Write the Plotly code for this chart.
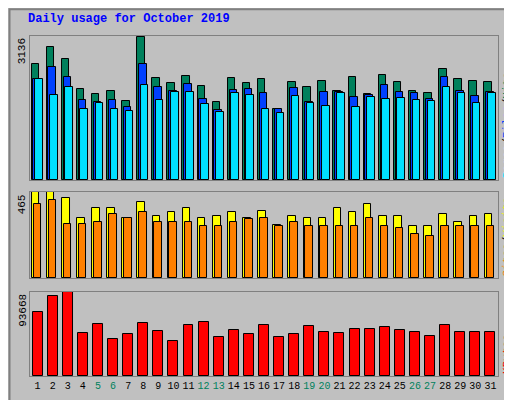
import plotly.graph_objects as go
from plotly.subplots import make_subplots

days = list(range(1, 32))
weekend = [5, 6, 12, 13, 19, 20, 26, 27]

hits = [2539, 2915, 2650, 1987, 1877, 1943, 1722, 3136, 2230, 2120, 2274, 2054, 1700, 2230, 2120, 2208,
        1546, 2142, 2031, 2164, 1943, 2252, 1877, 2296, 2142, 1943, 1899, 2429, 2208, 2164, 2142]
files = [2208, 2473, 2252, 1744, 1700, 1744, 1590, 2539, 2031, 1943, 2098, 1766, 1524, 1965, 1987, 1899,
         1546, 2009, 1700, 1921, 1921, 1811, 1855, 2076, 1921, 1899, 1766, 2252, 1943, 1833, 1921]
pages = [2208, 1855, 2031, 1546, 1678, 1546, 1502, 2076, 1744, 1921, 1921, 1656, 1479, 1899, 1855, 1546,
         1457, 1833, 1678, 1612, 1899, 1590, 1811, 1766, 1789, 1744, 1722, 2031, 1899, 1678, 1899]
visits = [465, 465, 433, 325, 379, 379, 325, 411, 335, 357, 379, 325, 335, 357, 325, 362,
          287, 335, 325, 325, 379, 357, 400, 335, 335, 281, 281, 346, 303, 335, 346]
sites = [400, 422, 292, 292, 303, 346, 325, 357, 303, 303, 303, 281, 281, 303, 319, 325,
         281, 303, 281, 281, 281, 281, 325, 281, 270, 238, 227, 281, 281, 281, 281]
kbytes = [71360, 89200, 93668, 47945, 57980, 41255, 46830, 59095, 50175, 39025, 56865, 60210, 43485,
          51290, 46830, 56865, 43485, 46830, 55750, 49060, 47945, 52405, 52405, 54635, 51290, 49060,
          44600, 56865, 49060, 49060, 49060]

FONT = "Liberation Mono"
fig = make_subplots(rows=3, cols=1, shared_xaxes=True)

def bars(row, y, color, offset, width=0.5):
    fig.add_trace(go.Bar(x=days, y=y, offset=offset, width=width, marker_color=color,
                         marker_line=dict(color="black", width=1), showlegend=False), row=row, col=1)

bars(1, hits, "#00805C", -0.4)
bars(1, files, "#0040FF", -0.28)
bars(1, pages, "#00E0FF", -0.16)
bars(2, visits, "#FFFF00", -0.38)
bars(2, sites, "#FF8000", -0.26)
bars(3, kbytes, "#FF0000", -0.33, 0.66)

fig.update_layout(
    width=512, height=400, margin=dict(l=0, r=0, t=0, b=0),
    paper_bgcolor="#C0C0C0", plot_bgcolor="#C0C0C0", barmode="overlay", bargap=0,
    font=dict(family=FONT, size=11, color="black"),
)
doms = [[0.57, 0.93], [0.325, 0.54], [0.08, 0.29]]
maxes = [3136, 465, 93668]
for i, (d, m) in enumerate(zip(doms, maxes), start=1):
    fig.update_yaxes(domain=d, range=[0, m * 1.005], showticklabels=False, showgrid=False,
                     zeroline=False, showline=True, linecolor="#808080", mirror=True, row=i, col=1)
    fig.update_xaxes(domain=[0.043, 0.957], range=[0.5, 31.5], showgrid=False, showline=True,
                     linecolor="#808080", mirror=True, row=i, col=1)
    fig.add_annotation(xref="paper", yref="paper", x=0.028, y=d[1], text=str(m), textangle=-90,
                       showarrow=False, xanchor="center", yanchor="top", font=dict(size=11))

ticktext = [f"<span style='color:#00805C'>{d}</span>" if d in weekend else str(d) for d in days]
fig.update_xaxes(tickmode="array", tickvals=days, ticktext=ticktext, ticks="", tickangle=0,
                 tickfont=dict(size=10), row=3, col=1)

labels = [
    "<span style='color:#00E0FF'>Pages</span>/<span style='color:#0040FF'>Files</span>/<span style='color:#00805C'>Hits</span>",
    "<span style='color:#FF8000'>Sites</span>/<span style='color:#FFFF00'>Visits</span>",
    "<span style='color:#FF0000'>KBytes</span>",
]
for d, t in zip(doms, labels):
    fig.add_annotation(xref="paper", yref="paper", x=0.99, y=d[0], text=t, textangle=-90,
                       showarrow=False, xanchor="right", yanchor="bottom", font=dict(size=11))

fig.add_annotation(xref="paper", yref="paper", x=0.035, y=0.995, text="<b>Daily usage for October 2019</b>",
                   showarrow=False, xanchor="left", yanchor="top", font=dict(size=12, color="#0000FF"))
fig.add_shape(type="rect", xref="paper", yref="paper", x0=0.003, y0=0.003, x1=0.997, y1=0.997,
              line=dict(color="#808080", width=2))
fig.write_html("out.html")
